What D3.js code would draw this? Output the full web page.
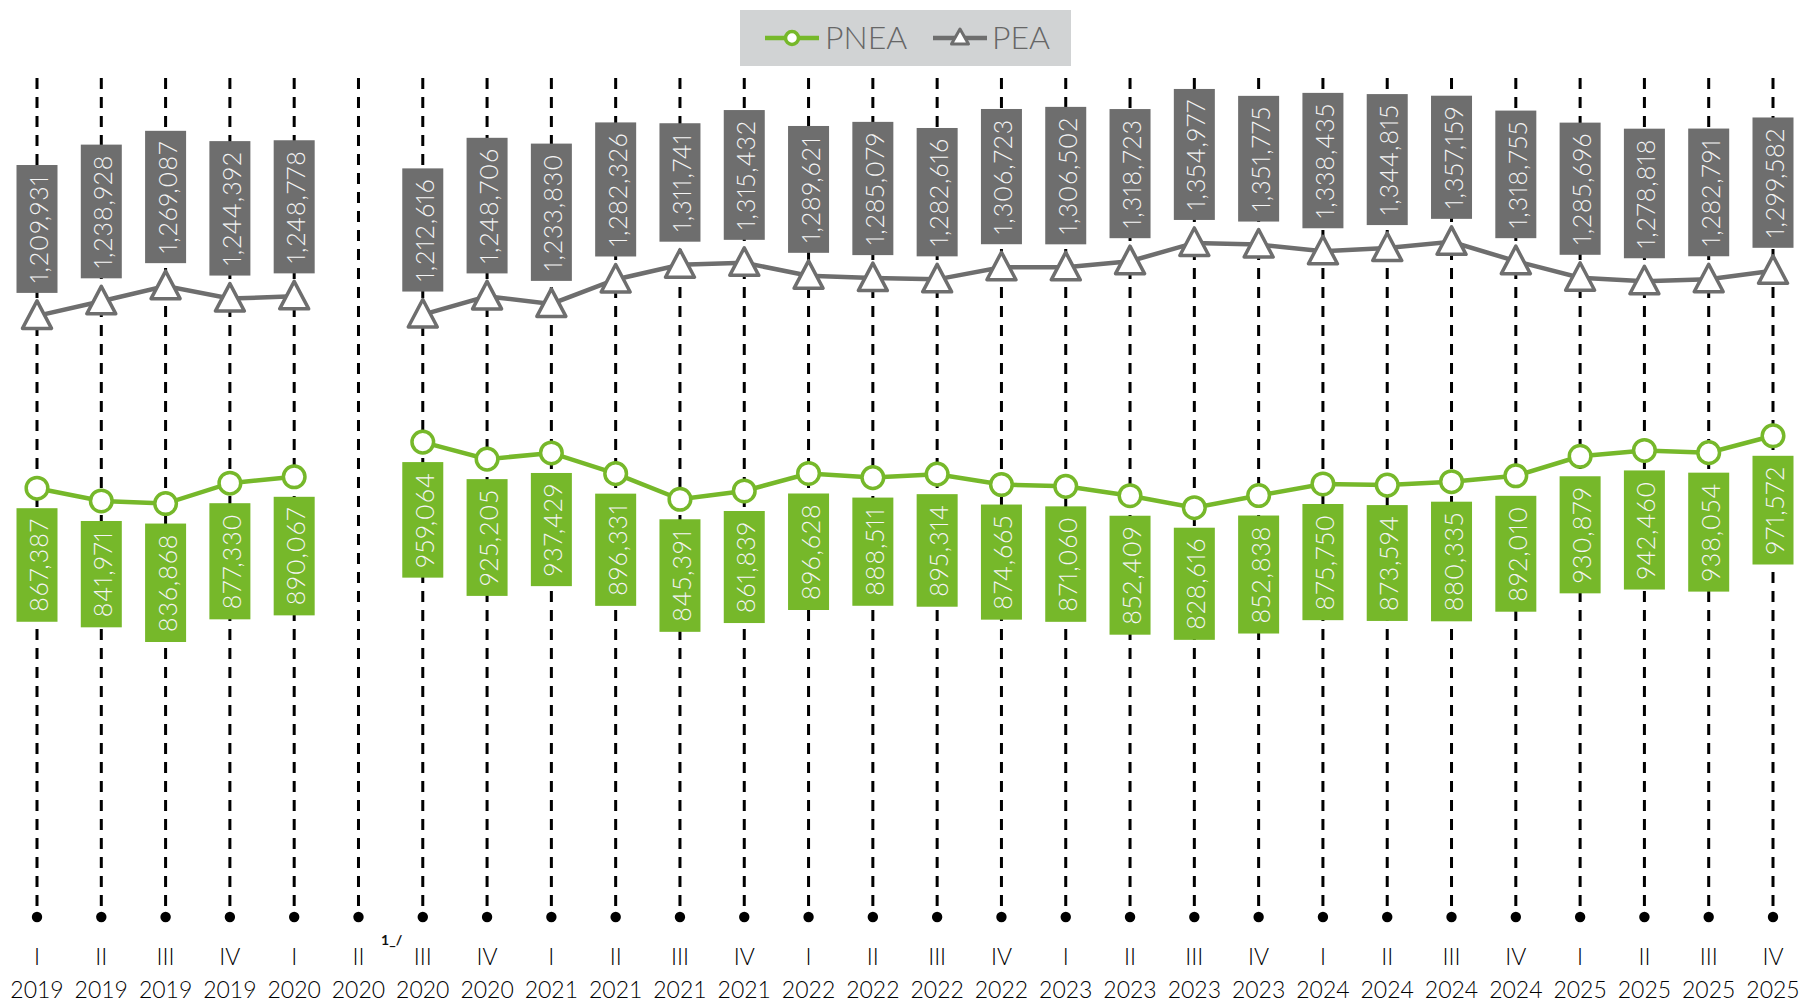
<!DOCTYPE html>
<html>
<head>
<meta charset="utf-8">
<script src="https://cdn.jsdelivr.net/npm/d3@7"></script>
<style>
  html, body { margin: 0; padding: 0; background: #ffffff; }
  svg { display: block; }
  text { font-family: Lato, "Noto Sans", sans-serif; }
</style>
</head>
<body>
<svg id="chart" width="1804" height="1003"></svg>
<script>
const quarters = ["I","II","III","IV","I","II","III","IV","I","II","III","IV","I","II","III","IV","I","II","III","IV","I","II","III","IV","I","II","III","IV"];
const years = ["2019","2019","2019","2019","2020","2020","2020","2020","2021","2021","2021","2021","2022","2022","2022","2022","2023","2023","2023","2023","2024","2024","2024","2024","2025","2025","2025","2025"];
const peaValues = [1209931,1238928,1269087,1244392,1248778,null,1212616,1248706,1233830,1282326,1311741,1315432,1289621,1285079,1282616,1306723,1306502,1318723,1354977,1351775,1338435,1344815,1357159,1318755,1285696,1278818,1282791,1299582];
const pneaValues = [867387,841971,836868,877330,890067,null,959064,925205,937429,896331,845391,861839,896628,888511,895314,874665,871060,852409,828616,852838,875750,873594,880335,892010,930879,942460,938054,971572];
const seriesNames = ["PNEA","PEA"];
const noteText = "1_/";

const GREEN = "#76b82a";
const GRAY = "#6e6e6e";

const svg = d3.select("#chart");
const idx = d3.range(quarters.length);
const x = d3.scalePoint().domain(idx).range([37, 1773]);
const y = d3.scaleLinear().domain([0, 1700000]).range([924.5, 924.5 - 1700000 * 0.000503]);
const fmt = d3.format(",");

// dashed vertical guides
const guides = svg.append("g");
guides.selectAll("line").data(idx).join("line")
  .attr("x1", d => x(d)).attr("x2", d => x(d))
  .attr("y1", 78).attr("y2", 917)
  .attr("stroke", "#000").attr("stroke-width", 3)
  .attr("stroke-dasharray", "11,8");
guides.selectAll("circle").data(idx).join("circle")
  .attr("cx", d => x(d)).attr("cy", 917).attr("r", 5.2).attr("fill", "#000");

// axis labels
const axisG = svg.append("g");
axisG.selectAll("text.q").data(idx).join("text").attr("class", "q")
  .attr("x", d => x(d)).attr("y", 965)
  .attr("text-anchor", "middle").attr("font-size", 23).attr("font-weight", 300)
  .attr("fill", "#000").text(d => quarters[d]);
axisG.selectAll("text.y").data(idx).join("text").attr("class", "y")
  .attr("x", d => x(d)).attr("y", 998)
  .attr("text-anchor", "middle").attr("font-size", 23).attr("font-weight", 300)
  .attr("fill", "#000").text(d => years[d]);
axisG.append("text").attr("x", (x(5) + x(6)) / 2 + 1).attr("y", 945)
  .attr("text-anchor", "middle").attr("font-size", 14).attr("font-weight", 700)
  .attr("fill", "#111").text(noteText);

// lines
const line = d3.line().defined(d => d.v != null).x(d => x(d.i)).y(d => y(d.v));
const peaData = peaValues.map((v, i) => ({i, v}));
const pneaData = pneaValues.map((v, i) => ({i, v}));

svg.append("path").datum(peaData).attr("d", line)
  .attr("fill", "none").attr("stroke", GRAY).attr("stroke-width", 4.5);
svg.append("path").datum(pneaData).attr("d", line)
  .attr("fill", "none").attr("stroke", GREEN).attr("stroke-width", 4.5);

const triPath = "M0,-15 L14.5,12.5 L-14.5,12.5 Z";

// markers
svg.append("g").selectAll("path").data(peaData.filter(d => d.v != null)).join("path")
  .attr("transform", d => `translate(${x(d.i)},${y(d.v)})`)
  .attr("d", triPath).attr("fill", "#fff").attr("stroke", GRAY)
  .attr("stroke-width", 3.5).attr("stroke-linejoin", "round");
svg.append("g").selectAll("circle").data(pneaData.filter(d => d.v != null)).join("circle")
  .attr("cx", d => x(d.i)).attr("cy", d => y(d.v)).attr("r", 10.8)
  .attr("fill", "#fff").attr("stroke", GREEN).attr("stroke-width", 3.5);

// labels
function drawLabels(data, color, above) {
  const g = svg.append("g");
  data.filter(d => d.v != null).forEach(d => {
    const cx = x(d.i), cy = y(d.v);
    const lg = g.append("g");
    const rect = lg.append("rect").attr("fill", color);
    const t = lg.append("text")
      .attr("font-size", 25).attr("font-weight", 300)
      .attr("letter-spacing", 1)
      .style("font-feature-settings", "'pnum' 1")
      .attr("fill", "#f4f4f4").attr("text-anchor", "middle")
      .attr("dominant-baseline", "central")
      .text(fmt(d.v));
    const len = t.node().getComputedTextLength();
    const h = len + 20, w = 41;
    const top = above ? cy - 23 - h : cy + 20;
    rect.attr("x", cx - w / 2).attr("y", top).attr("width", w).attr("height", h);
    t.attr("transform", `translate(${cx + 1},${top + h / 2}) rotate(-90)`);
  });
}
drawLabels(peaData, GRAY, true);
drawLabels(pneaData, GREEN, false);

// legend
const lg = svg.append("g");
lg.append("rect").attr("x", 740).attr("y", 10).attr("width", 331).attr("height", 56).attr("fill", "#d1d3d4");
lg.append("line").attr("x1", 765).attr("x2", 819).attr("y1", 38).attr("y2", 38)
  .attr("stroke", GREEN).attr("stroke-width", 4.5);
lg.append("circle").attr("cx", 792).attr("cy", 38).attr("r", 6.5)
  .attr("fill", "#fff").attr("stroke", GREEN).attr("stroke-width", 3.5);
lg.append("text").attr("x", 825).attr("y", 49).attr("font-size", 32).attr("font-weight", 300)
  .attr("fill", "#666").text(seriesNames[0]);
lg.append("line").attr("x1", 933).attr("x2", 987).attr("y1", 38).attr("y2", 38)
  .attr("stroke", GRAY).attr("stroke-width", 4.5);
lg.append("path").attr("transform", "translate(960,38)").attr("d", "M0,-9 L8.5,6 L-8.5,6 Z")
  .attr("fill", "#fff").attr("stroke", GRAY).attr("stroke-width", 3).attr("stroke-linejoin", "round");
lg.append("text").attr("x", 992).attr("y", 49).attr("font-size", 32).attr("font-weight", 300)
  .attr("fill", "#666").text(seriesNames[1]);
</script>
</body>
</html>
